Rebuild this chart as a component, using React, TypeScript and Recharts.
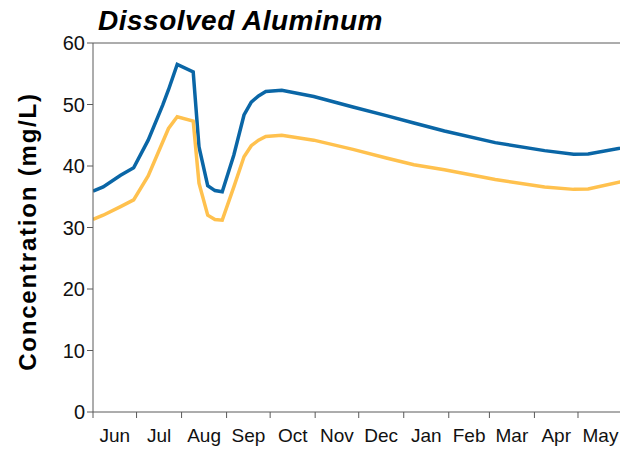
import { LineChart, Line, XAxis, YAxis, ReferenceLine } from "recharts";

// days since Jun 1
const DAYS = [0, 7, 19, 28, 38, 48, 52, 58, 69, 73, 79, 84, 89, 97, 104, 109, 114, 119, 130, 152, 179, 202, 221, 242, 277, 311, 331, 341, 363, 365];
const UPPER = [35.9, 36.6, 38.5, 39.7, 44.2, 49.9, 52.4, 56.5, 55.3, 43.1, 36.8, 36.0, 35.8, 41.8, 48.3, 50.4, 51.4, 52.1, 52.3, 51.3, 49.6, 48.2, 47.0, 45.7, 43.8, 42.5, 41.9, 41.95, 42.9, 43.0];
const LOWER = [31.3, 32.0, 33.4, 34.5, 38.4, 43.9, 46.1, 48.0, 47.3, 37.2, 32.0, 31.3, 31.2, 36.6, 41.5, 43.3, 44.2, 44.8, 45.0, 44.2, 42.7, 41.3, 40.2, 39.4, 37.8, 36.6, 36.2, 36.25, 37.4, 37.5];

const MONTHS = ["Jun", "Jul", "Aug", "Sep", "Oct", "Nov", "Dec", "Jan", "Feb", "Mar", "Apr", "May"];
const MONTH_DAYS = [30, 31, 31, 30, 31, 30, 31, 31, 28, 31, 30, 31];
const Y_TICKS = [0, 10, 20, 30, 40, 50, 60];

const MONTH_STARTS: number[] = [0];
MONTH_DAYS.forEach((d, i) => MONTH_STARTS.push(MONTH_STARTS[i] + d));

const W = 623;
const H = 449;
const Y_AXIS_W = 93;
const PLOT_W = W - Y_AXIS_W;
const PX_PER_DAY = PLOT_W / 365;

const FONT = "'Liberation Sans', Arial, sans-serif";
const AXIS = "#5a5a5a";

const data = DAYS.map((day, i) => ({ day, upper: UPPER[i], lower: LOWER[i] }));

function MonthTick(props: any) {
  const { x, y, payload } = props;
  const i = MONTH_STARTS.indexOf(payload.value);
  if (i < 0 || i >= MONTHS.length) return null;
  const off = (MONTH_DAYS[i] / 2) * PX_PER_DAY;
  return (
    <text x={x + off} y={y + 22} textAnchor="middle" fontFamily={FONT} fontSize={19} fill="#111">
      {MONTHS[i]}
    </text>
  );
}

function YTitle(props: any) {
  const vb = props.viewBox || { x: 0, y: 43, height: 369 };
  const cx = vb.x + 27;
  const cy = vb.y + vb.height / 2 + 4;
  return (
    <text
      x={cx}
      y={cy}
      transform={`rotate(-90 ${cx} ${cy})`}
      textAnchor="middle"
      dominantBaseline="central"
      fontFamily={FONT}
      fontWeight="bold"
      fontSize={24}
      letterSpacing={1.8}
      fill="#000"
    >
      Concentration (mg/L)
    </text>
  );
}

export default function App() {
  return (
    <div style={{ position: "fixed", left: 0, top: 0, width: 620, height: H, overflow: "hidden", background: "#fff" }}>
      <div
        style={{
          position: "absolute",
          left: 98,
          top: 7,
          fontFamily: FONT,
          fontSize: 28,
          lineHeight: "28px",
          letterSpacing: 0.5,
          fontWeight: "bold",
          fontStyle: "italic",
          color: "#000",
          whiteSpace: "nowrap",
        }}
      >
        Dissolved Aluminum
      </div>
      <LineChart width={W} height={H} data={data} margin={{ top: 43, right: 0, bottom: 0, left: 0 }}>
        <XAxis
          dataKey="day"
          type="number"
          domain={[0, 365]}
          ticks={MONTH_STARTS}
          interval={0}
          tick={<MonthTick />}
          stroke={AXIS}
          height={37}
          allowDataOverflow
        />
        <YAxis
          domain={[0, 60]}
          ticks={Y_TICKS}
          interval={0}
          width={Y_AXIS_W}
          stroke={AXIS}
          tick={{ fill: "#111", fontSize: 20, fontFamily: FONT }}
          label={<YTitle />}
        />
        <ReferenceLine y={60} stroke={AXIS} strokeWidth={1} />
        <Line
          type="linear"
          dataKey="upper"
          stroke="#0A66A6"
          strokeWidth={3.5}
          dot={false}
          isAnimationActive={false}
        />
        <Line
          type="linear"
          dataKey="lower"
          stroke="#FFC14E"
          strokeWidth={3.5}
          dot={false}
          isAnimationActive={false}
        />
      </LineChart>
    </div>
  );
}
